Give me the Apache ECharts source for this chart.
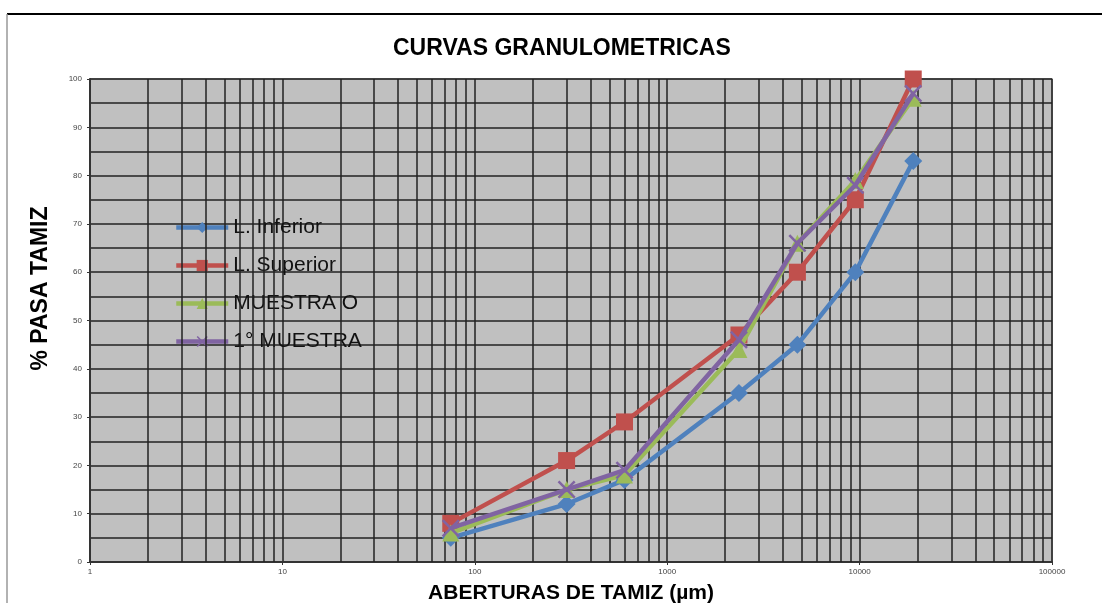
<!DOCTYPE html>
<html>
<head>
<meta charset="utf-8">
<script src="https://cdn.jsdelivr.net/npm/echarts@6/dist/echarts.min.js"></script>
<style>html,body{margin:0;padding:0;background:#fff}#c{width:1102px;height:603px}</style>
</head>
<body>
<div id="c"></div>
<script>
// Sieve openings (µm)
const sieves = [75, 300, 600, 2360, 4750, 9500, 19000];
const seriesNames = ['L. Inferior', 'L. Superior', 'MUESTRA O', '1° MUESTRA'];
const lInferior = [5, 12, 17, 35, 45, 60, 83];
const lSuperior = [8, 21, 29, 47, 60, 75, 100];
const muestraO = [6, 15, 18, 44, 66, 79, 96];
const muestra1 = [7, 15, 19, 46, 66, 78, 97];
const xTickLabels = ['1', '10', '100', '1000', '10000', '100000'];
// log minor grid positions (2..9 × 10^n)
const minorX = [];
[1, 10, 100, 1000, 10000].forEach(d => { for (let k = 2; k <= 9; k++) minorX.push(k * d); });

const colors = ['#4F81BD', '#C0504D', '#9BBB59', '#8064A2'];
const xPath = 'path://M0,1 L1,0 L5,4 L9,0 L10,1 L6,5 L10,9 L9,10 L5,6 L1,10 L0,9 L4,5 Z';
const symbols = ['diamond', 'rect', 'triangle', xPath];
const symSizes = [18, 17, 17, 18];
const datas = [lInferior, lSuperior, muestraO, muestra1];

const series = datas.map((d, i) => ({
  name: seriesNames[i],
  type: 'line',
  data: d.map((v, j) => [sieves[j], v]),
  symbol: symbols[i],
  symbolSize: symSizes[i],
  showAllSymbol: true,
  lineStyle: { width: 4.5, color: colors[i] },
  itemStyle: { color: colors[i] },
  z: 10 + i
}));
// minor log grid lines via markLine
series.unshift({
  type: 'line', data: [], silent: true, z: 1,
  markLine: {
    silent: true, symbol: ['none', 'none'], animation: false,
    label: { show: false },
    lineStyle: { color: '#222', width: 1.5, type: 'solid' },
    data: minorX.map(v => ({ xAxis: v }))
  }
});

const chart = echarts.init(document.getElementById('c'), null, { renderer: 'canvas' });
chart.setOption({
  animation: false,
  backgroundColor: '#fff',
  title: {
    text: 'CURVAS GRANULOMETRICAS',
    left: 388, top: 32,
    textStyle: { fontFamily: 'Liberation Sans, Arial', fontWeight: 'bold', fontSize: 23, color: '#000' }
  },
  legend: {
    data: seriesNames,
    orient: 'vertical',
    left: 169, top: 212,
    itemGap: 17,
    itemWidth: 52, itemHeight: 14,
    lineStyle: { width: 4.5 },
    textStyle: { fontFamily: 'Liberation Sans, Arial', fontSize: 21, color: '#111' }
  },
  graphic: [
    { type: 'line', shape: { x1: 7, y1: 14, x2: 1102, y2: 14 }, style: { stroke: '#000', lineWidth: 2 } },
    { type: 'line', shape: { x1: 7, y1: 14, x2: 7, y2: 603 }, style: { stroke: '#999', lineWidth: 1.5 } }
  ],
  grid: { left: 90, right: 50, top: 79, bottom: 41, show: true, outerBoundsMode: 'none', containLabel: false,
    backgroundColor: '#C0C0C0', borderColor: '#888', borderWidth: 1.5 },
  xAxis: {
    type: 'log', logBase: 10, min: 1, max: 100000,
    name: 'ABERTURAS DE TAMIZ (µm)', nameLocation: 'middle', nameGap: 21,
    nameTextStyle: { fontFamily: 'Liberation Sans, Arial', fontWeight: 'bold', fontSize: 21, color: '#000' },
    axisLine: { lineStyle: { color: '#333', width: 2 } },
    axisTick: { show: true, length: 3, lineStyle: { color: '#333' } },
    axisLabel: { fontSize: 8, color: '#444', margin: 6, fontFamily: 'Liberation Sans, Arial',
      formatter: v => xTickLabels.find(t => +t === Math.round(v)) || '' },
    splitLine: { show: true, lineStyle: { color: '#222', width: 1.5 } },
    minorTick: { show: false }, minorSplitLine: { show: false }
  },
  yAxis: {
    type: 'value', min: 0, max: 100, interval: 10,
    name: '% PASA TAMIZ', nameLocation: 'middle', nameGap: 38, nameRotate: 90,
    nameTextStyle: { fontFamily: 'Liberation Sans, Arial', fontWeight: 'bold', fontSize: 23, color: '#000', padding: [0, 0, 0, 64] },
    axisLine: { show: true, lineStyle: { color: '#333', width: 2 } },
    axisTick: { show: true, length: 3, lineStyle: { color: '#333' } },
    axisLabel: { fontSize: 8, color: '#444', margin: 8, fontFamily: 'Liberation Sans, Arial' },
    splitLine: { show: true, lineStyle: { color: '#222', width: 1.5 } },
    minorTick: { show: false, splitNumber: 2 },
    minorSplitLine: { show: true, lineStyle: { color: '#222', width: 1.5 } }
  },
  series: series
});
</script>
</body>
</html>
